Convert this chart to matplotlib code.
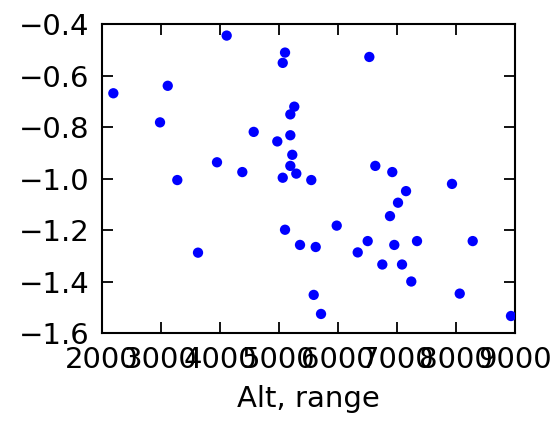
import matplotlib
matplotlib.use("Agg")
import matplotlib.pyplot as plt

# values
alt_range = [4113, 5102, 5063, 2192, 3114, 5259, 5192, 2983, 4571, 5192,
             4971, 5225, 5192, 3949, 4378, 5293, 5063, 5547, 3276, 6531,
             6632, 6920, 7932, 7153, 7017, 6881, 5978, 6503, 6954, 7339,
             8283, 6334, 6751, 7085, 7242, 8063, 8932, 5102, 3627, 5356,
             5622, 5588, 5712]
values = [-0.445, -0.511, -0.551, -0.669, -0.640, -0.721, -0.751, -0.782, -0.819, -0.832,
          -0.856, -0.908, -0.951, -0.937, -0.975, -0.981, -0.997, -1.006, -1.006, -0.528,
          -0.951, -0.975, -1.021, -1.049, -1.094, -1.146, -1.183, -1.243, -1.258, -1.243,
          -1.243, -1.287, -1.334, -1.334, -1.400, -1.447, -1.534, -1.199, -1.288, -1.258,
          -1.266, -1.452, -1.526]

x_ticks = [2000, 3000, 4000, 5000, 6000, 7000, 8000, 9000]
y_ticks = [-1.6, -1.4, -1.2, -1.0, -0.8, -0.6, -0.4]

plt.rcParams['font.family'] = 'DejaVu Sans'
plt.rcParams['font.size'] = 21

fig = plt.figure(figsize=(5.59, 4.24), dpi=100)
ax = fig.add_axes([0.1825, 0.2146, 0.7388, 0.7288])

ax.scatter(alt_range, values, s=55, color='b', edgecolors='none', zorder=3)

ax.set_xlim(2000, 9000)
ax.set_ylim(-1.6, -0.4)
ax.set_xticks(x_ticks)
ax.set_yticks(y_ticks)
ax.set_yticklabels(['\u2212%.1f' % abs(v) for v in y_ticks])
ax.tick_params(direction='in', length=8, width=1.3, top=True, right=True, pad=9)
for sp in ax.spines.values():
    sp.set_linewidth(1.5)

ax.set_xlabel('Alt, range', labelpad=8)

fig.savefig('out.png', dpi=100)
